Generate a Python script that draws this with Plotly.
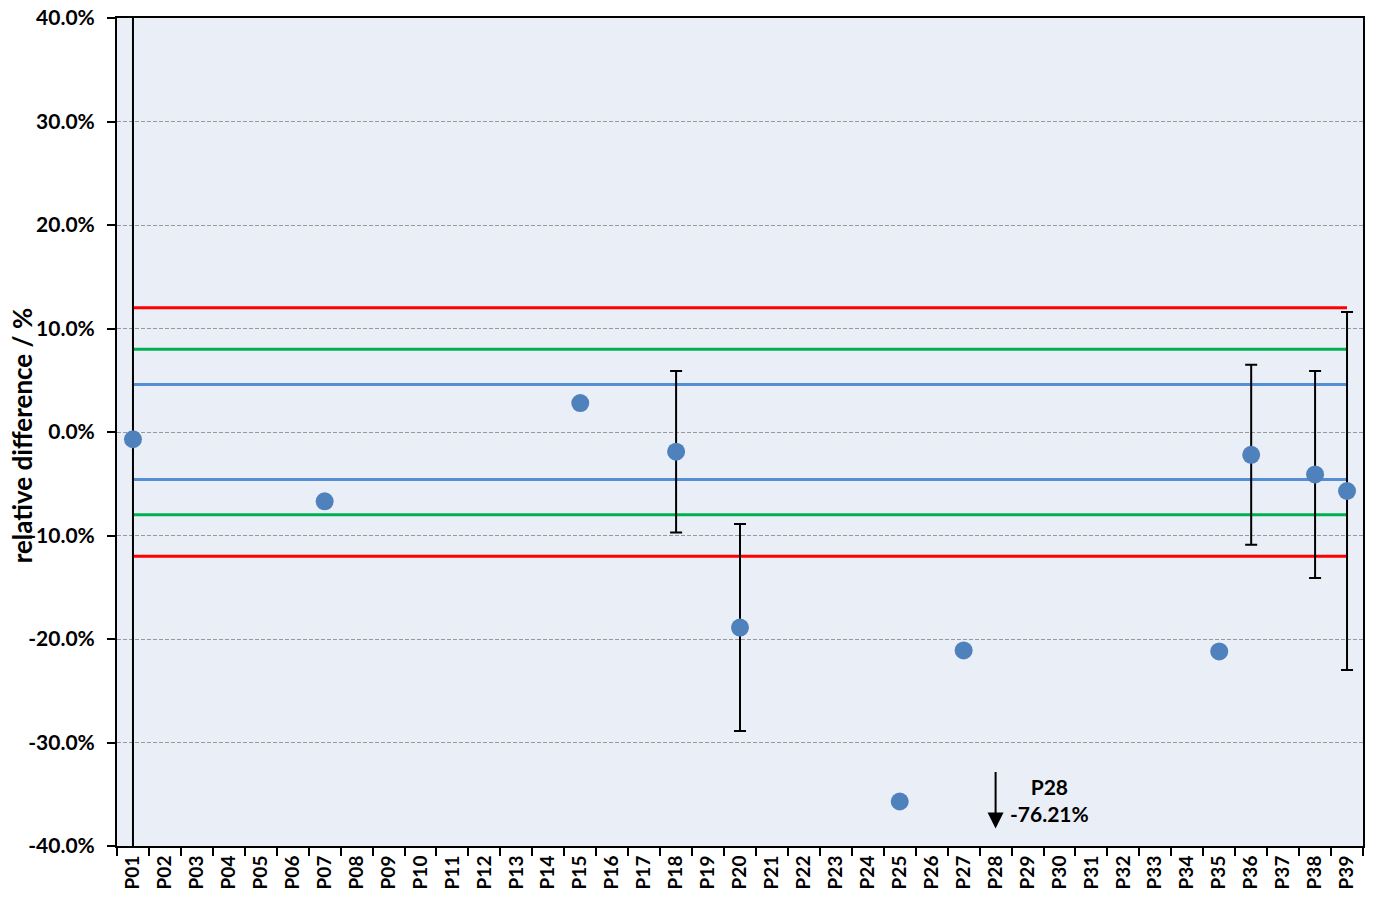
import plotly.graph_objects as go

# Participants
labs = [f"P{i:02d}" for i in range(1, 40)]

# Relative difference (%) and expanded uncertainty (%) per participant
result_labs = ["P01", "P07", "P15", "P18", "P20", "P25", "P27", "P28", "P35", "P36", "P38", "P39"]
result_vals = [-0.7, -6.7, 2.8, -1.9, -18.9, -35.7, -21.1, -76.21, -21.2, -2.2, -4.1, -5.7]
result_unc = [60.0, 0, 0, 7.8, 10.0, 0, 0, 0, 0, 8.7, 10.0, 17.3]

# Acceptance limits (%)
limit_red = 12.0
limit_green = 8.0
limit_blue = 4.6

y_ticks = [-40, -30, -20, -10, 0, 10, 20, 30, 40]
y_ticktext = [f"{v:.1f}%" for v in y_ticks]

FONT = "Lato, 'Open Sans', sans-serif"

fig = go.Figure()

# limit lines
for lim, col in [(limit_red, "#FF0000"), (limit_green, "#00B050"), (limit_blue, "#558ED5")]:
    for sgn in (1, -1):
        fig.add_trace(go.Scatter(
            x=[labs[0], labs[-1]], y=[sgn * lim, sgn * lim],
            mode="lines", line=dict(color=col, width=3),
            hoverinfo="skip", showlegend=False))

# points with uncertainty (error bars)
has_unc = [i for i, u in enumerate(result_unc) if u > 0]
fig.add_trace(go.Scatter(
    x=[result_labs[i] for i in has_unc],
    y=[result_vals[i] for i in has_unc],
    mode="markers",
    marker=dict(size=18, color="#4F81BD"),
    error_y=dict(type="data", array=[result_unc[i] for i in has_unc],
                 visible=True, color="black", thickness=2, width=6),
    showlegend=False))

# points without uncertainty
no_unc = [i for i, u in enumerate(result_unc) if u == 0]
fig.add_trace(go.Scatter(
    x=[result_labs[i] for i in no_unc],
    y=[result_vals[i] for i in no_unc],
    mode="markers",
    marker=dict(size=18, color="#4F81BD"),
    showlegend=False))

# off-scale result indicator
off_idx = result_labs.index("P28")
off_lab = result_labs[off_idx]
off_val = result_vals[off_idx]
fig.add_annotation(
    x=off_lab, y=-38.3, ax=off_lab, ay=-32.7,
    xref="x", yref="y", axref="x", ayref="y",
    text="", showarrow=True, arrowhead=2, arrowsize=1.6, arrowwidth=2,
    arrowcolor="black")
fig.add_annotation(
    x=off_lab, y=-35.6, xref="x", yref="y", xshift=54,
    text=f"<b>{off_lab}<br>{off_val:.2f}%</b>", showarrow=False,
    font=dict(family=FONT, size=21, color="black"), align="center")

# y-axis title
fig.add_annotation(
    x=-0.0762, y=0.496, xref="paper", yref="paper",
    xanchor="center", yanchor="middle",
    text="<b>relative difference / %</b>", textangle=-90, showarrow=False,
    font=dict(family=FONT, size=26, color="black"))

fig.update_layout(
    width=1373, height=900,
    margin=dict(l=117, r=10, t=18, b=54, autoexpand=False),
    paper_bgcolor="white",
    plot_bgcolor="#EAEFF7",
    font=dict(family=FONT, color="black"),
    showlegend=False,
)
fig.update_xaxes(
    type="category", categoryorder="array", categoryarray=labs,
    range=[-0.5, len(labs) - 0.5], automargin=False,
    tickmode="array", tickvals=labs, ticktext=[f"<b>{l}</b>" for l in labs],
    tickangle=-90, tickfont=dict(family=FONT, size=19, color="black"),
    ticks="outside", tickson="boundaries", ticklen=8, tickwidth=2, tickcolor="black",
    showgrid=False, showline=True, linecolor="black", linewidth=2, mirror=True,
    zeroline=False,
)
fig.update_yaxes(
    range=[-40, 40], automargin=False,
    tickmode="array", tickvals=y_ticks, ticktext=[f"<b>{t}</b>" for t in y_ticktext],
    tickfont=dict(family=FONT, size=21, color="black"),
    ticks="outside", ticklen=8, tickwidth=2, tickcolor="black",
    ticklabelstandoff=8,
    showgrid=True, gridcolor="#999999", griddash="4px,2px", gridwidth=1,
    showline=True, linecolor="black", linewidth=2, mirror=True,
    zeroline=False,
)

fig.write_html("out.html")
